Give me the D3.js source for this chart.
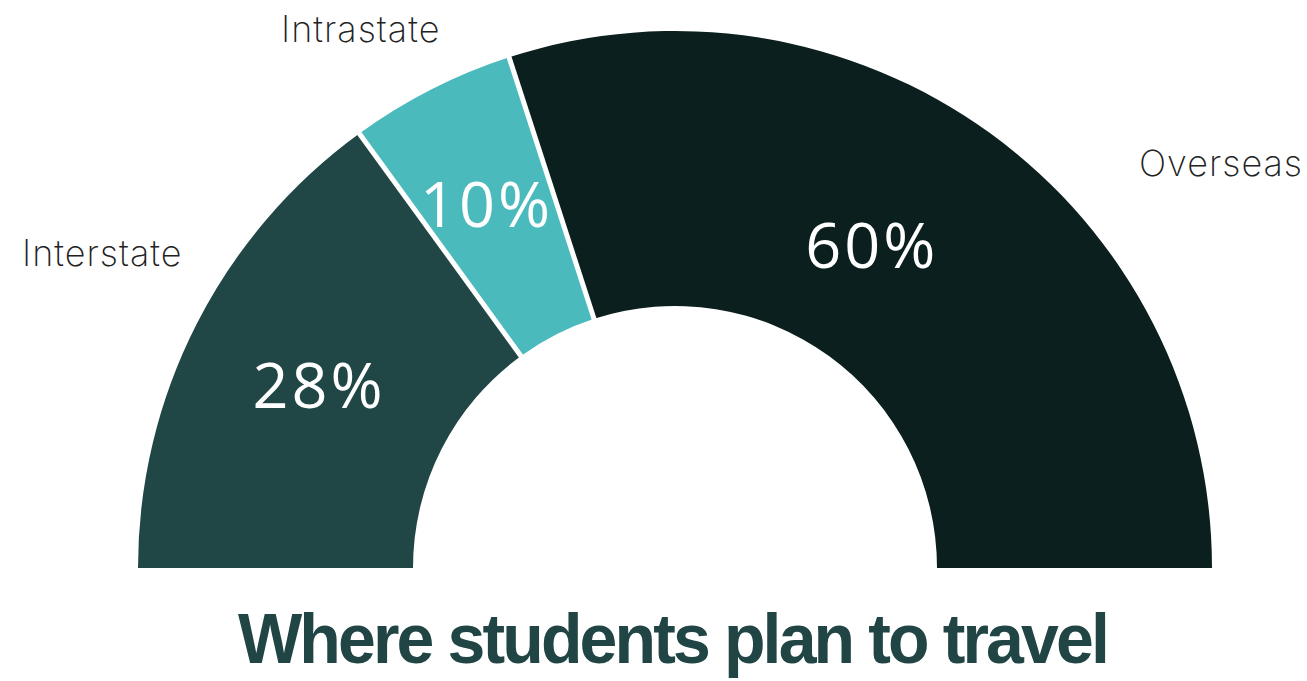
<!DOCTYPE html>
<html>
<head>
<meta charset="utf-8">
<script src="https://cdn.jsdelivr.net/npm/d3@7"></script>
<style>
  body { margin: 0; background: #fff; }
  svg { display: block; }
</style>
</head>
<body>
<div id="chart"></div>
<script>
// slice shares as drawn, and the labels printed on them
const categories = ["Interstate", "Intrastate", "Overseas"];
const shares = [30, 10, 60];
const pctLabels = ["28%", "10%", "60%"];
const colors = ["#214646", "#4bbabd", "#0b1f1f"];

const width = 1307, height = 681;
const cx = 675, cy = 568;
const outerR = 537, innerR = 262;

// where the category names sit, and small nudges for the percent labels
const namePos = [
    { x: 22, y: 266, anchor: "start" },
    { x: 281, y: 42, anchor: "start" },
    { x: 1303, y: 176, anchor: "end" }
];
const pctNudge = [[0, 0], [-7, -6], [-38, 2]];

const svg = d3.select("#chart").append("svg")
    .attr("width", width)
    .attr("height", height);

const g = svg.append("g")
    .attr("transform", `translate(${cx},${cy})`);

const data = categories.map((c, i) => ({ name: c, value: shares[i], label: pctLabels[i], color: colors[i] }));

const pie = d3.pie()
    .sort(null)
    .value(d => d.value)
    .startAngle(-Math.PI / 2)
    .endAngle(Math.PI / 2);

const arc = d3.arc()
    .innerRadius(innerR)
    .outerRadius(outerR);

const arcs = pie(data);

g.selectAll("path.slice")
    .data(arcs)
    .enter()
    .append("path")
    .attr("class", "slice")
    .attr("d", arc)
    .attr("fill", d => d.data.color);

// white gaps between slices
g.selectAll("line.sep")
    .data(arcs.slice(1))
    .enter()
    .append("line")
    .attr("class", "sep")
    .attr("x1", d => Math.sin(d.startAngle) * (innerR - 2))
    .attr("y1", d => -Math.cos(d.startAngle) * (innerR - 2))
    .attr("x2", d => Math.sin(d.startAngle) * (outerR + 2))
    .attr("y2", d => -Math.cos(d.startAngle) * (outerR + 2))
    .attr("stroke", "#fff")
    .attr("stroke-width", 5);

// percent labels inside the slices
g.selectAll("text.pct")
    .data(arcs)
    .enter()
    .append("text")
    .attr("class", "pct")
    .attr("x", (d, i) => arc.centroid(d)[0] + pctNudge[i][0])
    .attr("y", (d, i) => arc.centroid(d)[1] + 21 + pctNudge[i][1])
    .attr("text-anchor", "middle")
    .attr("fill", "#fff")
    .attr("font-family", "'Open Sans', sans-serif")
    .attr("font-size", "63px")
    .attr("letter-spacing", "3px")
    .text(d => d.data.label);

// category names outside
svg.selectAll("text.name")
    .data(data)
    .enter()
    .append("text")
    .attr("class", "name")
    .attr("x", (d, i) => namePos[i].x)
    .attr("y", (d, i) => namePos[i].y)
    .attr("text-anchor", (d, i) => namePos[i].anchor)
    .attr("fill", "#222")
    .attr("font-family", "Inter, sans-serif")
    .attr("font-weight", 200)
    .attr("font-size", "36px")
    .attr("letter-spacing", "1px")
    .text(d => d.name);

svg.append("text")
    .attr("x", 238)
    .attr("y", 663)
    .attr("textLength", 869)
    .attr("lengthAdjust", "spacingAndGlyphs")
    .attr("fill", "#214545")
    .attr("font-family", "'Liberation Sans', Arial, sans-serif")
    .attr("font-weight", 700)
    .attr("font-size", "71px")
    .attr("letter-spacing", "-3px")
    .text("Where students plan to travel");
</script>
</body>
</html>
